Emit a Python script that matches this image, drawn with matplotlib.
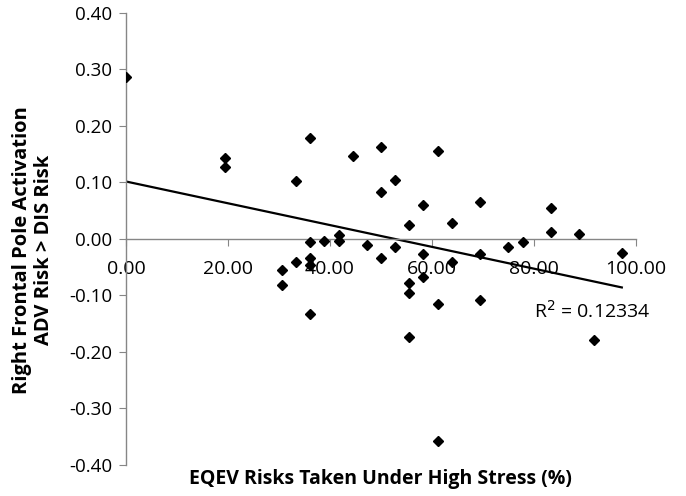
import matplotlib
matplotlib.use("Agg")
import matplotlib.pyplot as plt
import numpy as np

# share of risky choices taken under high stress (%), 36 trials per subject
risk_pct = [
    0.0, 19.44, 19.44, 30.56, 30.56, 33.33, 33.33, 36.11, 36.11, 36.11,
    36.11, 36.11, 38.89, 41.67, 41.67, 44.44, 47.22, 50.0, 50.0, 50.0,
    52.78, 52.78, 55.56, 55.56, 55.56, 55.56, 58.33, 58.33, 58.33, 61.11,
    61.11, 61.11, 63.89, 63.89, 69.44, 69.44, 69.44, 75.0, 77.78, 83.33,
    83.33, 88.89, 91.67, 97.22,
]
# right frontal pole activation, ADV risk > DIS risk
activation = [
    0.287, 0.143, 0.127, -0.055, -0.081, 0.102, -0.041, 0.178, -0.005, -0.033,
    -0.046, -0.133, -0.003, 0.007, -0.003, 0.147, -0.011, 0.163, 0.083, -0.034,
    0.105, -0.015, 0.025, -0.078, -0.095, -0.173, 0.061, -0.027, -0.067, 0.155,
    -0.115, -0.358, 0.029, -0.041, 0.066, -0.027, -0.108, -0.014, -0.006, 0.055,
    0.013, 0.008, -0.178, -0.024,
]
x_ticks = [0, 20, 40, 60, 80, 100]
y_ticks = [-0.4, -0.3, -0.2, -0.1, 0.0, 0.1, 0.2, 0.3, 0.4]
r2_label = "R$^2$ = 0.12334"

GREY = "#868686"
FONT = "Open Sans"

fig = plt.figure(figsize=(6.86, 4.96), dpi=100)
ax = fig.add_axes([0.1837, 0.0625, 0.7434, 0.9113])

x = np.array(risk_pct)
y = np.array(activation)
ax.plot(x, y, "D", color="black", markersize=5.5, zorder=3)

# linear trendline over the data range
slope, icept = np.polyfit(x, y, 1)
xs = np.array([x.min(), x.max()])
ax.plot(xs, slope * xs + icept, color="black", lw=1.6, zorder=2)

ax.set_xlim(0, 100)
ax.set_ylim(-0.4, 0.4)
ax.spines["bottom"].set_position(("data", 0))
ax.spines["top"].set_visible(False)
ax.spines["right"].set_visible(False)
for side in ("left", "bottom"):
    ax.spines[side].set_color(GREY)
    ax.spines[side].set_linewidth(1.0)

ax.set_xticks(x_ticks)
ax.set_xticklabels([f"{v:.2f}" for v in x_ticks], fontname=FONT, fontsize=14)
ax.set_yticks(y_ticks)
ax.set_yticklabels([f"{v:.2f}" for v in y_ticks], fontname=FONT, fontsize=13.5)
ax.tick_params(axis="x", direction="out", length=5, color=GREY, pad=10)
ax.tick_params(axis="y", direction="out", length=5, color=GREY, pad=5)

fig.text(534 / 686, 1 - 311 / 496, r2_label, fontname=FONT, fontsize=14,
         ha="left", va="center")
fig.text(380 / 686, 1 - 479 / 496, "EQEV Risks Taken Under High Stress (%)",
         fontname=FONT, fontsize=14, fontweight="bold", ha="center", va="center")
fig.text(33 / 686, 1 - 250 / 496, "Right Frontal Pole Activation\nADV Risk > DIS Risk",
         fontname=FONT, fontsize=14.5, fontweight="bold", ha="center", va="center",
         rotation=90, linespacing=1.15)

fig.savefig("out.png", dpi=100)
